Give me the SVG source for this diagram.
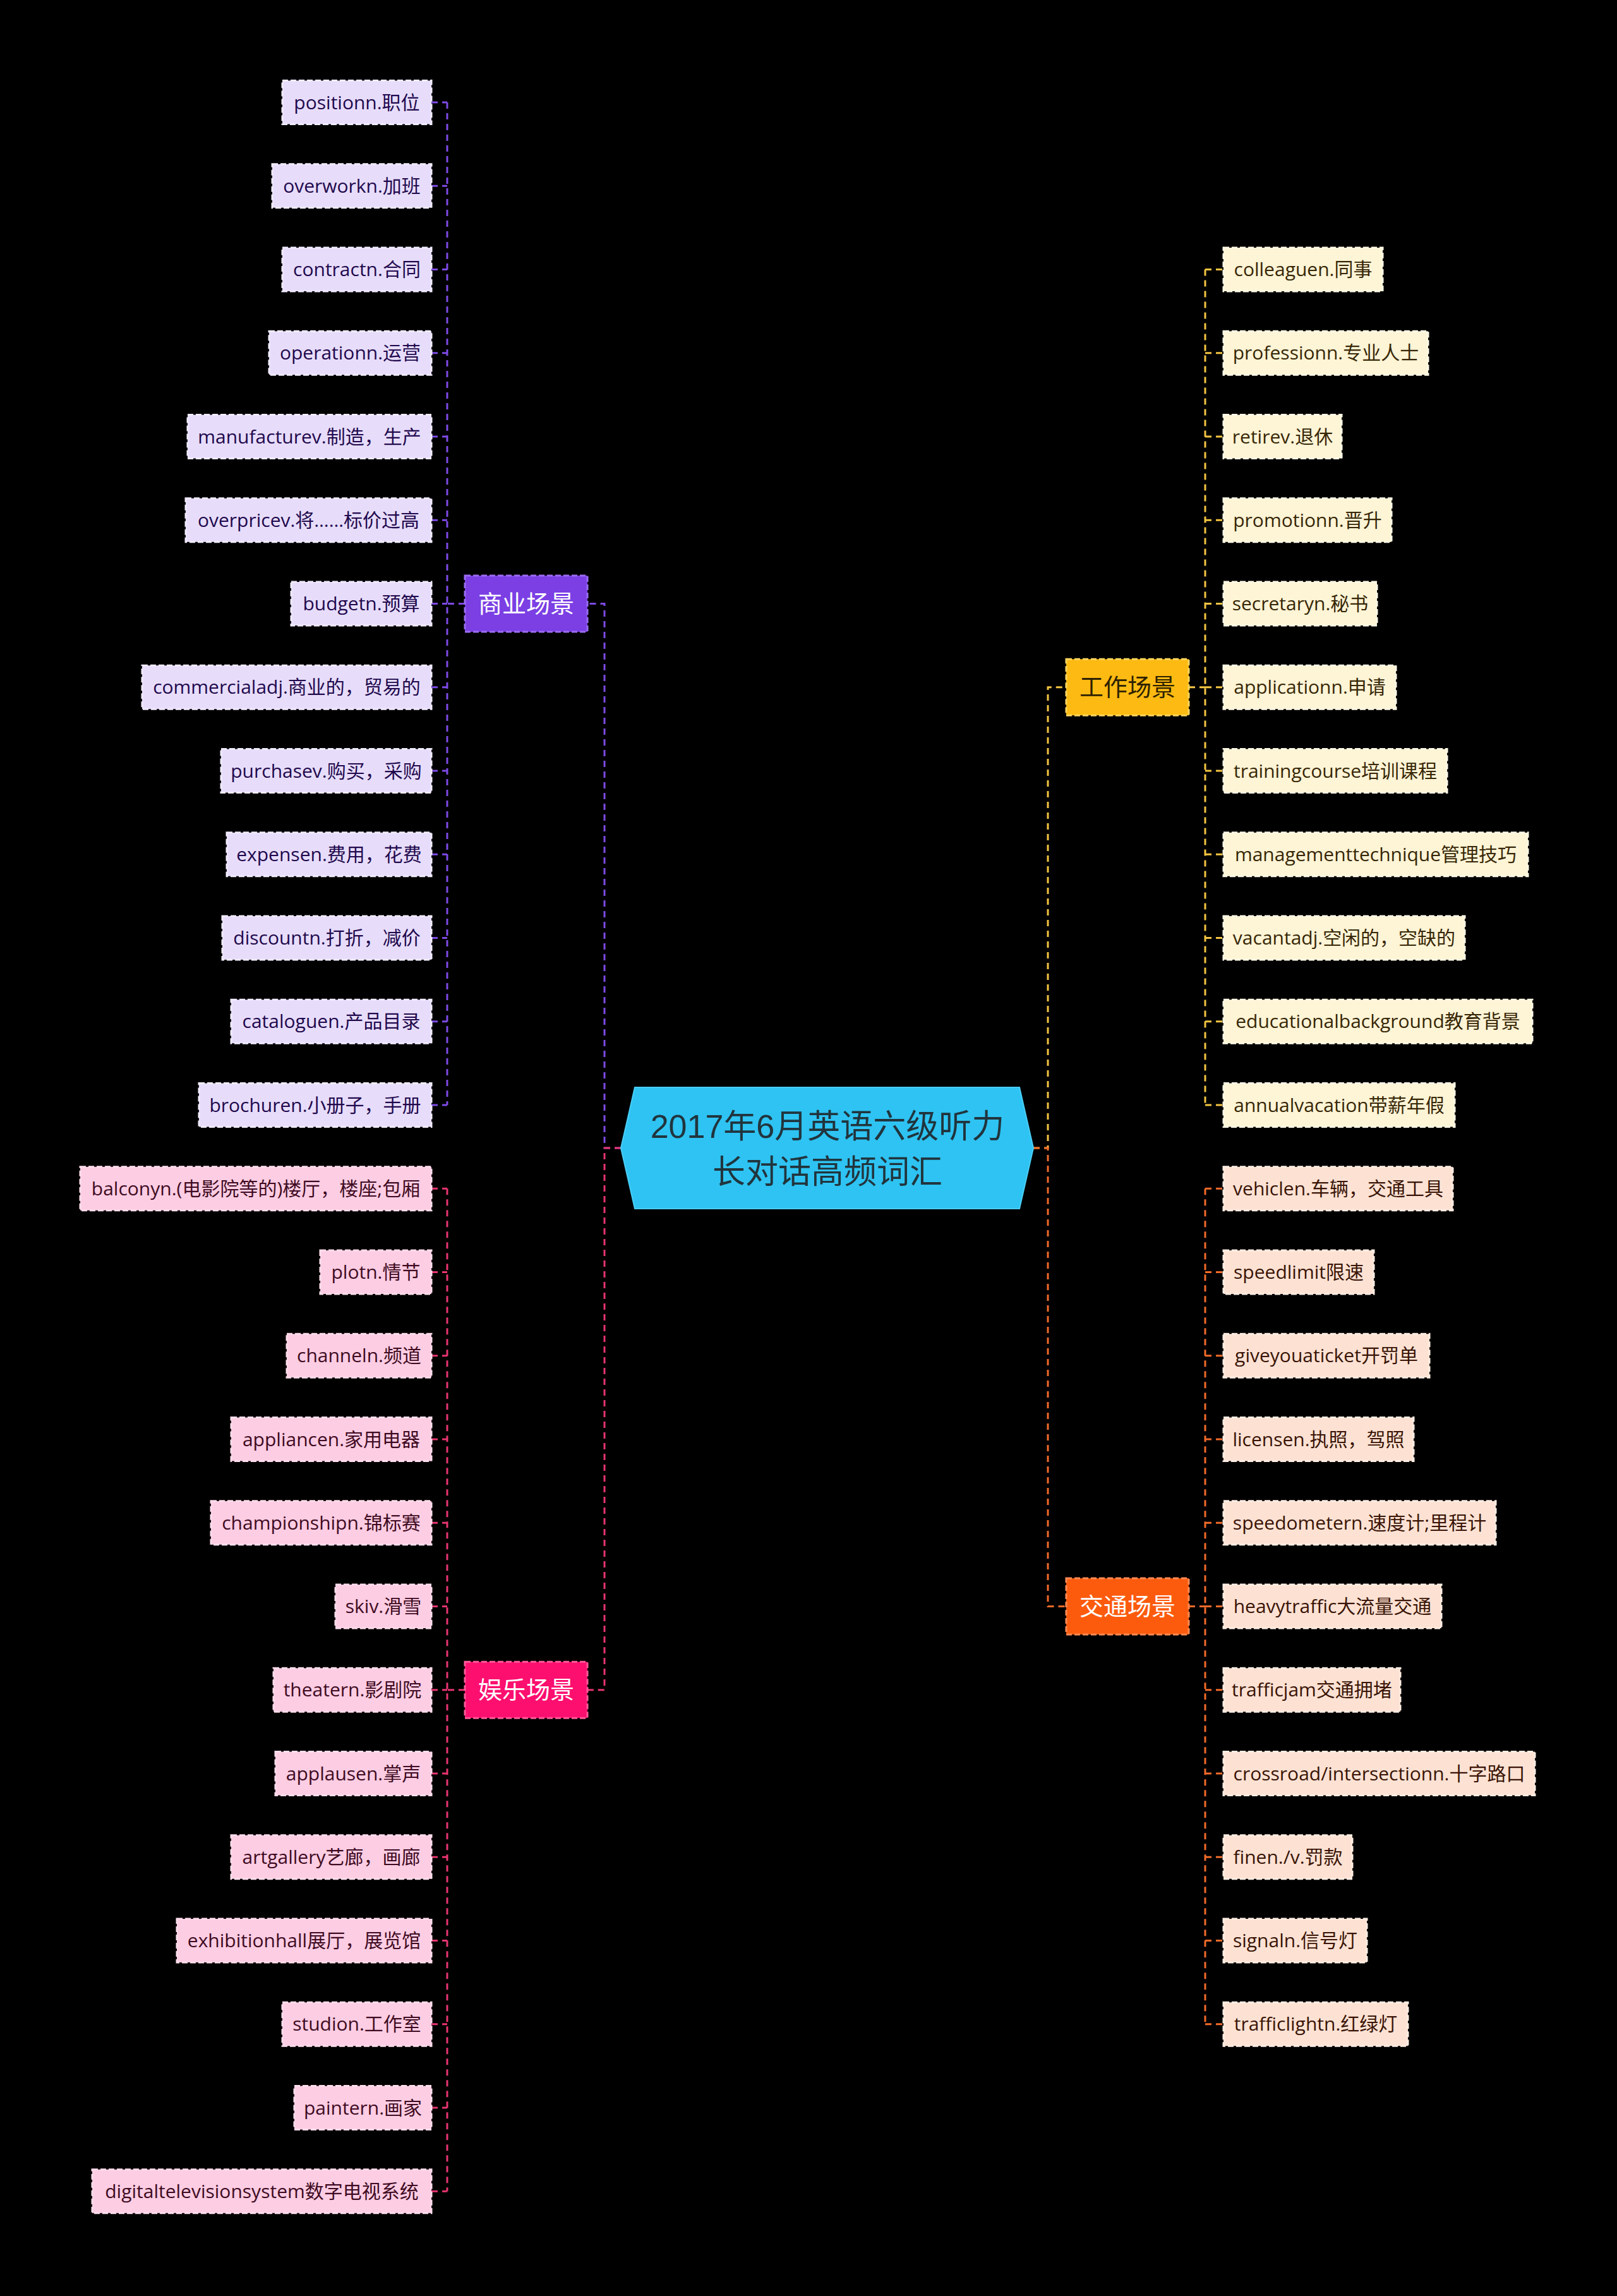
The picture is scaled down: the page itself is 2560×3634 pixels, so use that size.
<svg xmlns="http://www.w3.org/2000/svg" width="2560" height="3634" viewBox="0 0 2560 3634">
<style>
text{font-family:"Liberation Sans","Noto Sans CJK SC",sans-serif;text-anchor:middle}
.leaf text{font-size:30px;font-family:"Open Sans","Noto Sans CJK SC",sans-serif}
.cat text{font-size:38px}
.lb rect{stroke-width:3;stroke-dasharray:9 4}
.cb rect{stroke-width:3;stroke-dasharray:9 4}
.p rect{fill:#E7DDFB;stroke:#F1EBFF}.p text{fill:#22094D}
.y rect{fill:#FEF4D6;stroke:#FFF9E6}.y text{fill:#372706}
.o rect{fill:#FDE2D4;stroke:#FFEDE3}.o text{fill:#3A1406}
.k rect{fill:#FDCDE3;stroke:#FFDDEC}.k text{fill:#3F0B22}
.conn path{fill:none;stroke-width:3;stroke-dasharray:10 7}
</style>
<rect x="0" y="0" width="2560" height="3634" fill="#000000"/>
<g id="connectors" class="conn">
  <path stroke="#7E4AE6" d="M983 1817 H957 V955.5 H930 M736 955.5 H708 M708 162 V1749 M683 162 H708 M683 294.25 H708 M683 426.5 H708 M683 558.75 H708 M683 691 H708 M683 823.25 H708 M683 955.5 H708 M683 1087.75 H708 M683 1220 H708 M683 1352.25 H708 M683 1484.5 H708 M683 1616.75 H708 M683 1749 H708"/>
  <path stroke="#E8356F" d="M983 1817 H957 V2674.75 H930 M736 2674.75 H708 M708 1881.25 V3468.25 M683 1881.25 H708 M683 2013.5 H708 M683 2145.75 H708 M683 2278 H708 M683 2410.25 H708 M683 2542.5 H708 M683 2674.75 H708 M683 2807 H708 M683 2939.25 H708 M683 3071.5 H708 M683 3203.75 H708 M683 3336 H708 M683 3468.25 H708"/>
  <path stroke="#F4C542" d="M1636 1817 H1659 V1087.75 H1688 M1882 1087.75 H1908 M1908 426.5 V1749 M1908 426.5 H1937 M1908 558.75 H1937 M1908 691 H1937 M1908 823.25 H1937 M1908 955.5 H1937 M1908 1087.75 H1937 M1908 1220 H1937 M1908 1352.25 H1937 M1908 1484.5 H1937 M1908 1616.75 H1937 M1908 1749 H1937"/>
  <path stroke="#F26B2A" d="M1636 1817 H1659 V2542.5 H1688 M1882 2542.5 H1908 M1908 1881.25 V3203.75 M1908 1881.25 H1937 M1908 2013.5 H1937 M1908 2145.75 H1937 M1908 2278 H1937 M1908 2410.25 H1937 M1908 2542.5 H1937 M1908 2674.75 H1937 M1908 2807 H1937 M1908 2939.25 H1937 M1908 3071.5 H1937 M1908 3203.75 H1937"/>
</g>
<g id="root">
  <polygon points="983,1817 1005,1721 1614,1721 1636,1817 1614,1913 1005,1913" fill="#2EC3F2" stroke="#49CDF6" stroke-width="2"/>
  <text x="1310" y="1801" font-size="52" fill="#21343D">2017年6月英语六级听力</text>
  <text x="1310" y="1873" font-size="52" fill="#21343D">长对话高频词汇</text>
</g>
<g id="cat-business" class="cat cb"><rect x="736" y="911" width="194" height="89" fill="#7B3FE4" stroke="#9A6CF0"/><text x="833" y="969" fill="#FFFFFF">商业场景</text></g>
<g id="cat-entertainment" class="cat cb"><rect x="736" y="2630.25" width="194" height="89" fill="#FC0F6F" stroke="#FF5A9A"/><text x="833" y="2688.25" fill="#FFFFFF">娱乐场景</text></g>
<g id="cat-work" class="cat cb"><rect x="1688" y="1043.25" width="194" height="89" fill="#FDBA12" stroke="#FFD55E"/><text x="1785" y="1101.25" fill="#2E2200">工作场景</text></g>
<g id="cat-traffic" class="cat cb"><rect x="1688" y="2498" width="194" height="89" fill="#FC5B0E" stroke="#FF8A52"/><text x="1785" y="2556" fill="#FFFFFF">交通场景</text></g>

<g class="leaf lb p">
<g id="b1"><rect x="447" y="127.5" width="236" height="69"/><text x="565" y="172.5">positionn.职位</text></g>
<g id="b2"><rect x="431" y="259.75" width="252" height="69"/><text x="557" y="304.75">overworkn.加班</text></g>
<g id="b3"><rect x="447" y="392" width="236" height="69"/><text x="565" y="437">contractn.合同</text></g>
<g id="b4"><rect x="426" y="524.25" width="257" height="69"/><text x="554.5" y="569.25">operationn.运营</text></g>
<g id="b5"><rect x="297" y="656.5" width="386" height="69"/><text x="490" y="701.5">manufacturev.制造，生产</text></g>
<g id="b6"><rect x="294" y="788.75" width="389" height="69"/><text x="488.5" y="833.75">overpricev.将……标价过高</text></g>
<g id="b7"><rect x="461" y="921" width="222" height="69"/><text x="572" y="966">budgetn.预算</text></g>
<g id="b8"><rect x="225" y="1053.25" width="458" height="69"/><text x="454" y="1098.25">commercialadj.商业的，贸易的</text></g>
<g id="b9"><rect x="350" y="1185.5" width="333" height="69"/><text x="516.5" y="1230.5">purchasev.购买，采购</text></g>
<g id="b10"><rect x="359" y="1317.75" width="324" height="69"/><text x="521" y="1362.75">expensen.费用，花费</text></g>
<g id="b11"><rect x="352" y="1450" width="331" height="69"/><text x="517.5" y="1495">discountn.打折，减价</text></g>
<g id="b12"><rect x="366" y="1582.25" width="317" height="69"/><text x="524.5" y="1627.25">cataloguen.产品目录</text></g>
<g id="b13"><rect x="315" y="1714.5" width="368" height="69"/><text x="499" y="1759.5">brochuren.小册子，手册</text></g>
</g>

<g class="leaf lb k">
<g id="e1"><rect x="127" y="1846.75" width="556" height="69"/><text x="405" y="1891.75">balconyn.(电影院等的)楼厅，楼座;包厢</text></g>
<g id="e2"><rect x="507" y="1979" width="176" height="69"/><text x="595" y="2024">plotn.情节</text></g>
<g id="e3"><rect x="454" y="2111.25" width="229" height="69"/><text x="568.5" y="2156.25">channeln.频道</text></g>
<g id="e4"><rect x="366" y="2243.5" width="317" height="69"/><text x="524.5" y="2288.5">appliancen.家用电器</text></g>
<g id="e5"><rect x="334" y="2375.75" width="349" height="69"/><text x="508.5" y="2420.75">championshipn.锦标赛</text></g>
<g id="e6"><rect x="531" y="2508" width="152" height="69"/><text x="607" y="2553">skiv.滑雪</text></g>
<g id="e7"><rect x="433" y="2640.25" width="250" height="69"/><text x="558" y="2685.25">theatern.影剧院</text></g>
<g id="e8"><rect x="436" y="2772.5" width="247" height="69"/><text x="559.5" y="2817.5">applausen.掌声</text></g>
<g id="e9"><rect x="366" y="2904.75" width="317" height="69"/><text x="524.5" y="2949.75">artgallery艺廊，画廊</text></g>
<g id="e10"><rect x="280" y="3037" width="403" height="69"/><text x="481.5" y="3082">exhibitionhall展厅，展览馆</text></g>
<g id="e11"><rect x="447" y="3169.25" width="236" height="69"/><text x="565" y="3214.25">studion.工作室</text></g>
<g id="e12"><rect x="466" y="3301.5" width="217" height="69"/><text x="574.5" y="3346.5">paintern.画家</text></g>
<g id="e13"><rect x="146" y="3433.75" width="537" height="69"/><text x="414.5" y="3478.75">digitaltelevisionsystem数字电视系统</text></g>
</g>

<g class="leaf lb y">
<g id="w1"><rect x="1937" y="392" width="252" height="69"/><text x="2063" y="437">colleaguen.同事</text></g>
<g id="w2"><rect x="1937" y="524.25" width="324" height="69"/><text x="2099" y="569.25">professionn.专业人士</text></g>
<g id="w3"><rect x="1937" y="656.5" width="187" height="69"/><text x="2030.5" y="701.5">retirev.退休</text></g>
<g id="w4"><rect x="1937" y="788.75" width="266" height="69"/><text x="2070" y="833.75">promotionn.晋升</text></g>
<g id="w5"><rect x="1937" y="921" width="243" height="69"/><text x="2058.5" y="966">secretaryn.秘书</text></g>
<g id="w6"><rect x="1937" y="1053.25" width="273" height="69"/><text x="2073.5" y="1098.25">applicationn.申请</text></g>
<g id="w7"><rect x="1937" y="1185.5" width="354" height="69"/><text x="2114" y="1230.5">trainingcourse培训课程</text></g>
<g id="w8"><rect x="1937" y="1317.75" width="482" height="69"/><text x="2178" y="1362.75">managementtechnique管理技巧</text></g>
<g id="w9"><rect x="1937" y="1450" width="382" height="69"/><text x="2128" y="1495">vacantadj.空闲的，空缺的</text></g>
<g id="w10"><rect x="1937" y="1582.25" width="489" height="69"/><text x="2181.5" y="1627.25">educationalbackground教育背景</text></g>
<g id="w11"><rect x="1937" y="1714.5" width="366" height="69"/><text x="2120" y="1759.5">annualvacation带薪年假</text></g>
</g>

<g class="leaf lb o">
<g id="t1"><rect x="1937" y="1846.75" width="363" height="69"/><text x="2118.5" y="1891.75">vehiclen.车辆，交通工具</text></g>
<g id="t2"><rect x="1937" y="1979" width="238" height="69"/><text x="2056" y="2024">speedlimit限速</text></g>
<g id="t3"><rect x="1937" y="2111.25" width="326" height="69"/><text x="2100" y="2156.25">giveyouaticket开罚单</text></g>
<g id="t4"><rect x="1937" y="2243.5" width="301" height="69"/><text x="2087.5" y="2288.5">licensen.执照，驾照</text></g>
<g id="t5"><rect x="1937" y="2375.75" width="431" height="69"/><text x="2152.5" y="2420.75">speedometern.速度计;里程计</text></g>
<g id="t6"><rect x="1937" y="2508" width="345" height="69"/><text x="2109.5" y="2553">heavytraffic大流量交通</text></g>
<g id="t7"><rect x="1937" y="2640.25" width="280" height="69"/><text x="2077" y="2685.25">trafficjam交通拥堵</text></g>
<g id="t8"><rect x="1937" y="2772.5" width="493" height="69"/><text x="2183.5" y="2817.5">crossroad/intersectionn.十字路口</text></g>
<g id="t9"><rect x="1937" y="2904.75" width="204" height="69"/><text x="2039" y="2949.75">finen./v.罚款</text></g>
<g id="t10"><rect x="1937" y="3037" width="227" height="69"/><text x="2050.5" y="3082">signaln.信号灯</text></g>
<g id="t11"><rect x="1937" y="3169.25" width="292" height="69"/><text x="2083" y="3214.25">trafficlightn.红绿灯</text></g>
</g>
</svg>
